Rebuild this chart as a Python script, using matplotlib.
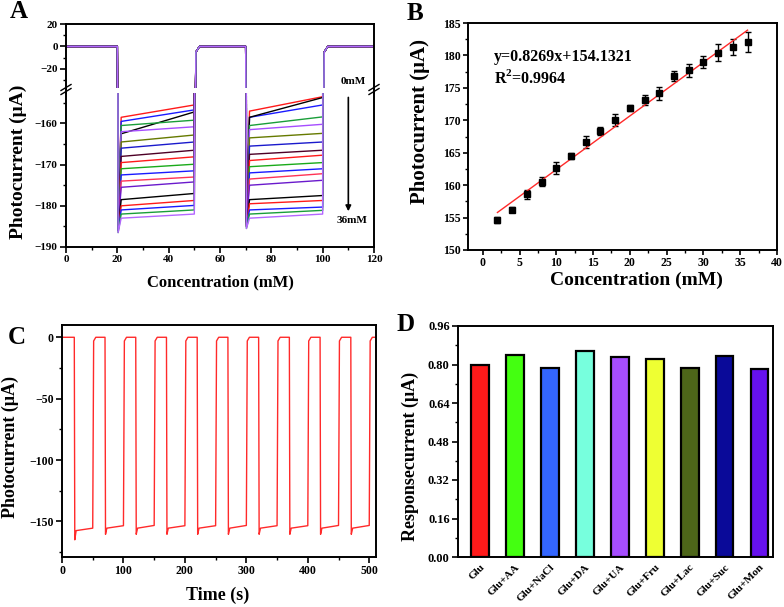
import matplotlib
matplotlib.use('Agg')
import matplotlib.pyplot as plt
import numpy as np
from matplotlib.ticker import MultipleLocator

plt.rcParams['font.family'] = ['Liberation Serif', 'DejaVu Serif']
plt.rcParams['font.weight'] = 'bold'
plt.rcParams['axes.labelweight'] = 'bold'
plt.rcParams['mathtext.fontset'] = 'custom'
plt.rcParams['mathtext.bf'] = 'Liberation Serif:bold'
plt.rcParams['axes.linewidth'] = 1.4
plt.rcParams['xtick.direction'] = 'out'
plt.rcParams['ytick.direction'] = 'out'

# ---- panel A: photocurrent traces, 2..36 mM (levels read at pulse start / end)
A_conc = [2, 4, 6, 8, 10, 12, 14, 16, 18, 20, 22, 24, 26, 28, 30, 32, 34, 36]
A_colors = ['#ff1a1a', '#1a1aff', '#000000', '#1a9e3a', '#a64dff', '#667a00',
            '#1a1acc', '#4d0026', '#ff1a1a', '#1aaa1a', '#1a1aff', '#ff3355',
            '#6a1acc', '#000000', '#ff1a1a', '#1a1aff', '#1a9e3a', '#b366ff']
A_spike1 = [-182.5, -183.0, -183.5, -183.5, -184.0, -184.0, -184.5, -184.5, -185.0,
            -185.0, -185.0, -185.5, -185.5, -186.0, -186.0, -186.0, -186.5, -186.5]
A_start1 = [-158.5, -159.5, -162.5, -160.5, -162.0, -164.5, -166.0, -168.0, -169.5,
            -171.0, -172.5, -174.0, -175.5, -178.5, -180.0, -181.0, -182.0, -183.0]
A_end1 = [-155.5, -156.7, -157.2, -159.2, -160.8, -162.8, -164.5, -166.5, -168.1,
          -169.9, -171.5, -173.0, -174.2, -177.0, -178.7, -179.9, -181.0, -182.0]
A_spike2 = [-181.5, -182.0, -182.0, -182.5, -183.0, -183.0, -183.5, -183.5, -184.0,
            -184.0, -184.0, -184.5, -184.5, -185.0, -185.0, -185.0, -185.5, -185.5]
A_start2 = [-157.0, -158.5, -158.5, -160.5, -161.5, -163.5, -165.5, -167.5, -169.0,
            -170.5, -172.0, -173.5, -175.0, -178.5, -179.5, -181.0, -182.0, -183.0]
A_end2 = [-153.5, -155.5, -153.7, -158.4, -160.2, -162.4, -164.5, -166.5, -167.7,
          -169.5, -171.0, -172.2, -173.8, -177.5, -178.7, -180.3, -181.1, -182.0]
A_times = [0, 20, 20.3, 21.5, 50, 50.6, 52, 70, 70.3, 71.5, 100, 100.6, 102, 120]

# ---- panel B: calibration
B_conc = [2, 4, 6, 8, 10, 12, 14, 16, 18, 20, 22, 24, 26, 28, 30, 32, 34, 36]
B_curr = [154.6, 156.2, 158.6, 160.5, 162.6, 164.5, 166.7, 168.3, 170.0,
          171.9, 173.1, 174.2, 176.8, 177.7, 179.0, 180.4, 181.3, 182.1]
B_err = [0.5, 0.4, 0.7, 0.7, 0.9, 0.5, 0.9, 0.6, 0.9,
         0.4, 0.8, 1.0, 0.8, 1.0, 0.9, 1.3, 1.2, 1.5]
B_slope, B_icpt = 0.8269, 154.1321

# ---- panel C: on/off cycling
C_on = [20, 70, 120, 170, 220, 270, 320, 370, 420, 470]
C_off = [50, 100, 150, 200, 250, 300, 350, 400, 450, 500]
C_spike = [-165, -160.5, -160.5, -160.5, -160.5, -160.5, -160.5, -160.5, -160.5, -160.5]
C_start = [-157.5, -155.5, -155.5, -155.5, -155.5, -155.5, -155.5, -155.5, -155.5, -155.5]
C_end = [-155.5, -153.5, -153.3, -153.5, -153.5, -153.3, -153.5, -153.5, -153.3, -153.3]

# ---- panel D: selectivity
D_labels = ['Glu', 'Glu+AA', 'Glu+NaCl', 'Glu+DA', 'Glu+UA',
            'Glu+Fru', 'Glu+Lac', 'Glu+Suc', 'Glu+Mon']
D_values = [0.798, 0.839, 0.787, 0.856, 0.831, 0.823, 0.787, 0.837, 0.780]
D_colors = ['#ff1a1a', '#44ff11', '#3366ff', '#77ffdd', '#a64dff',
            '#eeff33', '#4d6619', '#0a0a99', '#6611ee']

W, H = 784, 607
fig = plt.figure(figsize=(7.84, 6.07), dpi=100)


def box(l, t, r, b):
    return [l / W, 1 - b / H, (r - l) / W, (b - t) / H]


def style(ax, size):
    ax.tick_params(which='both', top=False, right=False, labelsize=size, pad=2)
    ax.tick_params(which='major', length=4, width=1.2)
    ax.tick_params(which='minor', length=2.5, width=1.0)


# ---------------- A (broken axis)
axAt = fig.add_axes(box(66, 24, 374, 88))
axAb = fig.add_axes(box(66, 93, 374, 247))
for i in range(len(A_conc)):
    ys = [0, 0, A_spike1[i], A_start1[i], A_end1[i], -5, 0,
          0, A_spike2[i], A_start2[i], A_end2[i], -5, 0, 0]
    for ax in (axAt, axAb):
        ax.plot(A_times, ys, color=A_colors[i], lw=1.0)
axAt.set_ylim(-37, 20)
axAb.set_ylim(-190, -152.6)
for ax in (axAt, axAb):
    ax.set_xlim(0, 120)
    style(ax, 8)
    ax.xaxis.set_major_locator(MultipleLocator(20))
    ax.xaxis.set_minor_locator(MultipleLocator(10))
axAt.yaxis.set_major_locator(MultipleLocator(20))
axAt.yaxis.set_minor_locator(MultipleLocator(10))
axAb.yaxis.set_major_locator(MultipleLocator(10))
axAb.yaxis.set_minor_locator(MultipleLocator(5))
axAb.set_yticks([-160, -170, -180, -190])
axAt.spines['bottom'].set_visible(False)
axAb.spines['top'].set_visible(False)
axAt.tick_params(which='both', bottom=False, labelbottom=False)
axAb.set_xlabel('Concentration (mM)', fontsize=12)
axAb.xaxis.label.set_va('center')
axAb.xaxis.set_label_coords(0.5, -0.227)
fig.text(18 / W, 1 - 162 / H, 'Photocurrent (μA)', rotation=90, ha='center',
         va='center', fontsize=14, fontweight='bold')
# break marks
for xf in (0, 1):
    for dy in (-2.5, 1.5):
        fig.add_artist(plt.Line2D([(66 + 308 * xf - 5) / W, (66 + 308 * xf + 5) / W],
                                  [1 - (90 + dy + 3) / H, 1 - (90 + dy - 3) / H],
                                  color='black', lw=1.0))
    fig.add_artist(plt.Line2D([(66 + 308 * xf) / W] * 2, [1 - 88 / H, 1 - 93 / H],
                              color='black', lw=1.4))
axAt.text(112, -31, '0mM', fontsize=8, ha='center', va='center')
axAb.annotate('', xy=(110, -182), xytext=(110, -153),
              arrowprops=dict(arrowstyle='-|>', color='black', lw=1.2,
                              mutation_scale=8))
axAb.text(111.5, -183.5, '36mM', fontsize=8, ha='center', va='center')
fig.text(19 / W, 1 - 12 / H, 'A', fontsize=18, fontweight='bold',
         ha='center', va='center')

# ---------------- B
axB = fig.add_axes(box(468, 23, 777, 250))
axB.errorbar(B_conc, B_curr, yerr=B_err, fmt='s', color='black', ms=4,
             capsize=2, elinewidth=1, capthick=1)
xf = np.array([B_conc[0], B_conc[-1]])
axB.plot(xf, B_slope * xf + B_icpt, color='#ff2a2a', lw=1.0)
axB.set_xlim(-2, 40)
axB.set_ylim(150, 185)
style(axB, 8.5)
axB.tick_params(which='major', length=3.5)
axB.tick_params(pad=1.5)
axB.xaxis.set_major_locator(MultipleLocator(5))
axB.xaxis.set_minor_locator(MultipleLocator(2.5))
axB.yaxis.set_major_locator(MultipleLocator(5))
axB.yaxis.set_minor_locator(MultipleLocator(2.5))
axB.set_xlabel('Concentration (mM)', fontsize=14)
axB.xaxis.label.set_va('center')
axB.xaxis.set_label_coords(0.544, -0.135)
axB.set_ylabel('Photocurrent (μA)', fontsize=15)
axB.yaxis.label.set_va('center')
axB.yaxis.set_label_coords(-0.155, 0.568)
axB.text(1.5, 179.8, 'y=%.4fx+%.4f' % (B_slope, B_icpt), fontsize=11.5,
         va='center')
axB.text(1.5, 176.5, 'R$^{\\mathbf{2}}$=0.9964', fontsize=11.5, va='center')
fig.text(415 / W, 1 - 14 / H, 'B', fontsize=18, fontweight='bold',
         ha='center', va='center')

# ---------------- C
axC = fig.add_axes(box(62, 325, 376, 557))
tx, ty = [0], [0]
for i in range(len(C_on)):
    tx += [C_on[i], C_on[i] + 0.8, C_on[i] + 3, C_off[i], C_off[i] + 1.5, C_off[i] + 5]
    ty += [0, C_spike[i], C_start[i], C_end[i], -3, 0]
tx.append(510)
ty.append(0)
axC.plot(tx, ty, color='#ff2a2a', lw=1.0)
axC.set_xlim(0, 511)
axC.set_ylim(-179, 10)
style(axC, 8.5)
axC.xaxis.set_major_locator(MultipleLocator(100))
axC.xaxis.set_minor_locator(MultipleLocator(50))
axC.yaxis.set_major_locator(MultipleLocator(50))
axC.yaxis.set_minor_locator(MultipleLocator(25))
axC.set_xlabel('Time (s)', fontsize=13)
axC.xaxis.label.set_va('center')
axC.xaxis.set_label_coords(0.497, -0.164)
axC.set_ylabel('Photocurrent (μA)', fontsize=13)
axC.yaxis.label.set_va('center')
axC.yaxis.set_label_coords(-0.166, 0.472)
fig.text(17 / W, 1 - 338 / H, 'C', fontsize=18, fontweight='bold',
         ha='center', va='center')

# ---------------- D
axD = fig.add_axes(box(458, 326, 773, 557))
xd = np.arange(len(D_labels))
axD.bar(xd, D_values, width=0.5, color=D_colors, edgecolor='black', lw=1.6)
axD.set_xlim(-0.63, 8.38)
axD.set_ylim(0, 0.96)
style(axD, 9)
axD.yaxis.set_major_locator(MultipleLocator(0.16))
axD.yaxis.set_minor_locator(MultipleLocator(0.08))
axD.yaxis.set_major_formatter(matplotlib.ticker.FormatStrFormatter('%.2f'))
axD.set_xticks(xd)
axD.set_xticklabels(D_labels, rotation=45, ha='right', rotation_mode='anchor',
                    fontsize=8)
axD.tick_params(axis='x', length=0, pad=4)
axD.set_ylabel('Responsecurrent (μA)', fontsize=13)
axD.yaxis.label.set_va('center')
axD.yaxis.set_label_coords(-0.152, 0.437)
fig.text(406 / W, 1 - 325 / H, 'D', fontsize=18, fontweight='bold',
         ha='center', va='center')

fig.savefig('out.png', dpi=100)
